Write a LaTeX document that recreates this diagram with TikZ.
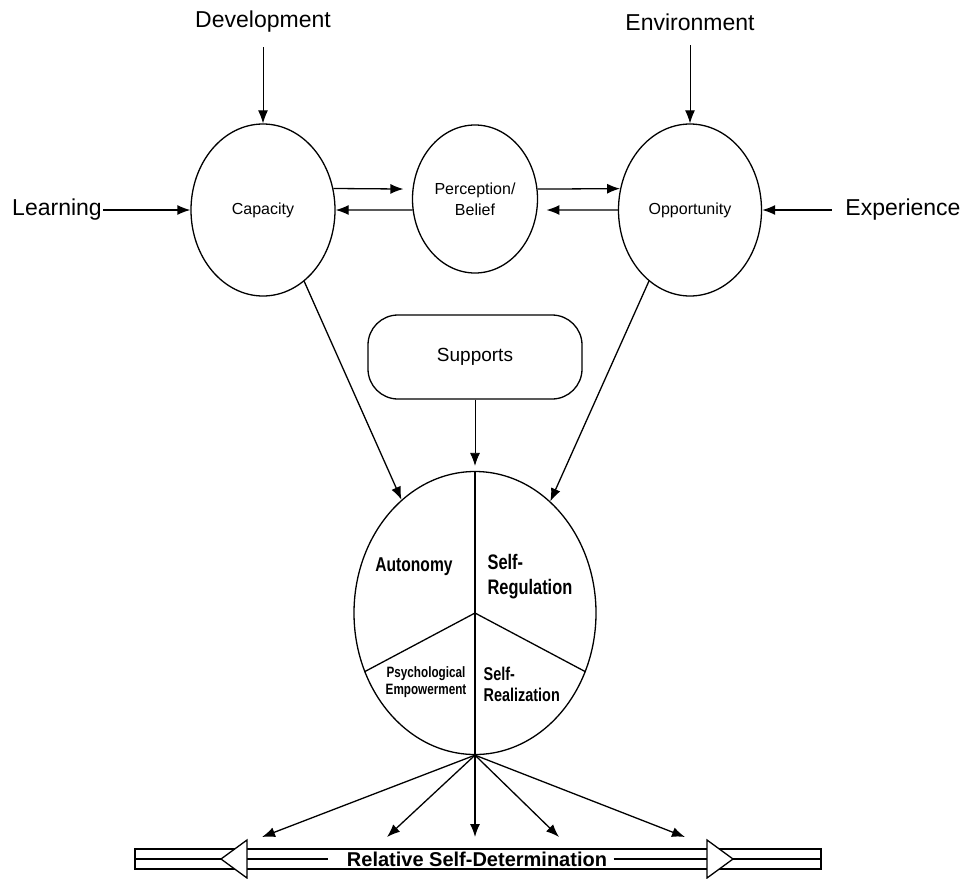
\documentclass[tikz,border=0pt]{standalone}
\usepackage{fontspec}
\setmainfont{Liberation Sans}
\newfontfamily\condensed[FakeStretch=0.78]{Liberation Sans}
\usetikzlibrary{positioning,arrows.meta,shapes.geometric}

\begin{document}
\begin{tikzpicture}[x=1pt,y=-1pt,-{Latex[length=13pt,width=10pt]},auto,on grid,line width=1.3pt,
  oval/.style={ellipse,draw,align=center,inner sep=0pt,font=\fontsize{16}{21}\selectfont},
  factor/.style={inner sep=1pt,font=\fontsize{23}{27}\selectfont},
  part/.style 2 args={align=left,inner sep=0pt,font=\condensed\bfseries\fontsize{#1}{#2}\selectfont}]
\useasboundingbox (0,0) rectangle (966,878);
\node[oval,minimum width=144pt,minimum height=172pt] (cap) at (263,210) {Capacity};
\node[oval,minimum width=125pt,minimum height=148pt] (per) [above right=11pt and 212pt of cap] {Perception/\\Belief};
\node[oval,minimum width=143pt,minimum height=172pt] (opp) [below right=11pt and 215pt of per] {Opportunity};
\node[factor] (dev) [above=188pt of cap] {Development};
\node[factor] (env) [above=188pt of opp] {Environment};
\node[factor] (learn) [left=206pt of cap] {Learning};
\node[factor] (exp) [right=213pt of opp] {Experience};
\node[draw,rounded corners=30pt,minimum width=214pt,minimum height=84pt,font=\fontsize{19}{23}\selectfont] (sup) [below=158pt of per] {Supports};
\node[ellipse,draw,minimum width=242pt,minimum height=283pt,inner sep=0pt] (big) [below=256pt of sup] {};
% parts of self-determination
\node[part={20}{24}] (aut) at (414,567) {Autonomy};
\node[part={21}{25},anchor=west] (reg) at (487,577) {Self-\\Regulation};
\node[part={15}{17.5},align=center] (emp) at (426,682) {Psychological\\Empowerment};
\node[part={18.5}{21},anchor=west] (rea) at (483,684) {Self-\\Realization};
\draw[-] (big.north) -- (big.south);
\draw[-] (big.208) -- (big.center) -- (big.332);
% inputs
\draw[line width=1pt,shorten <=13pt] (dev) -- (cap);
\draw[line width=1pt,shorten <=13pt] (env) -- (opp);
\draw (learn) -- (cap);
\draw[shorten <=12pt] (exp) -- (opp);
\draw[shorten >=9pt] (cap.17) -- (per.171);
\draw (per.190) -- (cap.east);
\draw (per.9) -- (opp.163);
\draw[shorten >=9pt] (opp.west) -- (per.350);
\draw (cap.-60) -- (big.123);
\draw (opp.240) -- (big.56);
\draw[line width=0.8pt,shorten >=5pt] (sup) -- (big);
% outcome
\foreach \x [count=\i] in {262,387,475,559,685}{
  \coordinate (end\i) at (\x,837);
  \draw (big.south) -- (end\i);}
\draw[-,line width=1.6pt] (135,849) rectangle (821,869);
\node[inner sep=0pt,font=\bfseries\fontsize{20}{24}\selectfont] (rsd) at (477,859) {Relative Self-Determination};
\draw[-,line width=1.2pt] (135,859) -- ([xshift=-18pt]rsd.west);
\draw[-,line width=1.2pt] ([xshift=6pt]rsd.east) -- (821,859);
\draw[-,fill=white] (247,840) -- (221,859) -- (247,878) -- cycle;
\draw[-,fill=white] (707,840) -- (733,859) -- (707,878) -- cycle;
\end{tikzpicture}
\end{document}
